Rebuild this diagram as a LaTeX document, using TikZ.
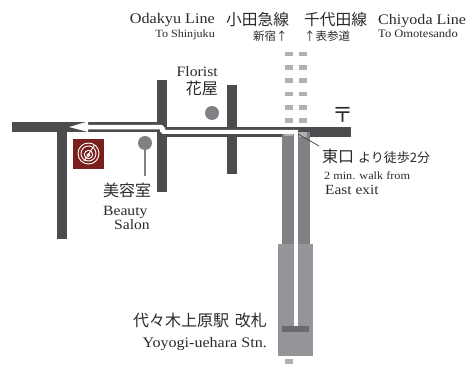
\documentclass[tikz,border=0pt]{standalone}
\usepackage{fontspec}
\setmainfont[FakeStretch=1.1]{Liberation Serif}
\newfontfamily\jp{Noto Sans CJK JP}
\definecolor{road}{HTML}{4B4C4E}
\definecolor{track}{HTML}{808184}
\definecolor{plat}{HTML}{939598}
\definecolor{dashc}{HTML}{B0B1B3}
\definecolor{barc}{HTML}{6A6B6E}
\definecolor{logoc}{HTML}{7A1F1C}
\definecolor{ink}{HTML}{2B2B2B}
\tikzset{
  x=1pt,y=-1pt,
  lab/.style={inner sep=0pt,text=ink,anchor=base west},
  labr/.style={inner sep=0pt,text=ink,anchor=base east},
  roadfill/.style={fill=road,draw=none},
  dashfill/.style={fill=dashc,draw=none},
  pin/.style={fill=track,draw=none},
}
\newcommand{\fs}[1]{\fontsize{#1}{#1}\selectfont}
\begin{document}
\begin{tikzpicture}
\useasboundingbox (0,0) rectangle (466,371);
\fill[white] (0,0) rectangle (466,371);
% roads
\fill[roadfill] (12,122) rectangle (165,132);
\fill[roadfill] (57,122) rectangle (67,239);
\fill[roadfill] (157,80) rectangle (167,192);
\fill[roadfill] (227,85) rectangle (237,174);
\fill[roadfill] (160,127) rectangle (351,137);
% rail dashes
\foreach \ya/\yb in {52/56,65/70,78/83,92/96,105/110,118/123}{
  \fill[dashfill] (285,\ya) rectangle (293.3,\yb);
  \fill[dashfill] (299,\ya) rectangle (307.3,\yb);
}
% tracks and platform
\fill[track] (282,134) rectangle (294,244);
\fill[track] (298,132) rectangle (310,244);
\fill[plat] (278,244) rectangle (313,356);
\fill[dashfill] (284,132.5) rectangle (293,136);
\fill[dashfill] (299,132) rectangle (307,137);
\fill[white] (294,131) rectangle (298,326);
\fill[barc] (282,326) rectangle (309,332);
\fill[dashfill] (285,359) rectangle (293,364);
% white walking route with arrowhead
\fill[white] (298,130) -- (165,130) -- (165,128) -- (162,125) -- (88,125) -- (88,121.5)
  -- (69,127) -- (88,132) -- (88,129.3) -- (160,129.3) -- (160,131.5) -- (162.5,134) -- (298,134) -- cycle;
% leader
\coordinate (exitA) at (298,134);
\coordinate (exitB) at (319,146);
\draw[road,line width=0.8pt] (exitA) -- (exitB);
% pins
\fill[pin] (212,113) circle (7);
\fill[pin] (145,143) circle (7);
\fill[pin] (144,143) rectangle (146,176);
% logo
\fill[logoc] (73,139) rectangle (104,169);
\begin{scope}[white,line width=0.9pt]
  \draw (88.5,153.5) circle (10.5);
  \draw (88.5,153.5) circle (7.5);
  \draw (88.5,154.5) circle (4.2);
  \draw (88.5,155) circle (1.5);
  \draw (84,161) .. controls (88,156) and (91,150) .. (94.5,145);
\end{scope}
% post mark
\node[inner sep=0pt,text=ink,font=\jp\fs{21}] (post) at (343,114.5) {〒};
% labels
\node[labr,font=\fs{14.7}] (odakyuEn) at (215,24) {Odakyu Line};
\node[labr,font=\fs{11}] (toShin) at (215,38) {To Shinjuku};
\node[lab,font=\jp\fs{15.7}] (odakyuJa) at (226,26) {小田急線};
\node[lab,font=\jp\fs{11.5}] (shinjuku) at (253,41) {新宿↑};
\node[lab,font=\jp\fs{15.7}] (chiyodaJa) at (304,26) {千代田線};
\node[lab,font=\jp\fs{11.5}] (omote) at (304,41) {↑表参道};
\node[lab,font=\fs{14.6}] (chiyodaEn) at (378,25) {Chiyoda Line};
\node[lab,font=\fs{11.4}] (toOmote) at (378,38) {To Omotesando};
\node[labr,font=\fs{14.3}] (florist) at (218,77) {Florist};
\node[labr,font=\jp\fs{16}] (hanaya) at (218,95) {花屋};
\node[lab,font=\jp\fs{16}] (biyo) at (103,197) {美容室};
\node[lab,font=\fs{14.2}] (beauty) at (103,215.5) {Beauty};
\node[lab,font=\fs{14.2}] (salon) at (114,230) {Salon};
\node[lab,font=\jp\fs{16}] (east) at (322,163) {東口};
\node[lab,font=\jp\fs{13}] (yori) at (358,163) {より徒歩2分};
\node[lab,font=\fs{11.1}] (walk) at (324,180) {2 min. walk from};
\node[lab,font=\fs{14}] (eastEn) at (325,195) {East exit};
\node[labr,font=\jp\fs{16}] (stnJa) at (267,327) {代々木上原駅\hspace{2pt} 改札};
\node[labr,font=\fs{14.6}] (stnEn) at (267,348) {Yoyogi-uehara Stn.};
\end{tikzpicture}
\end{document}
